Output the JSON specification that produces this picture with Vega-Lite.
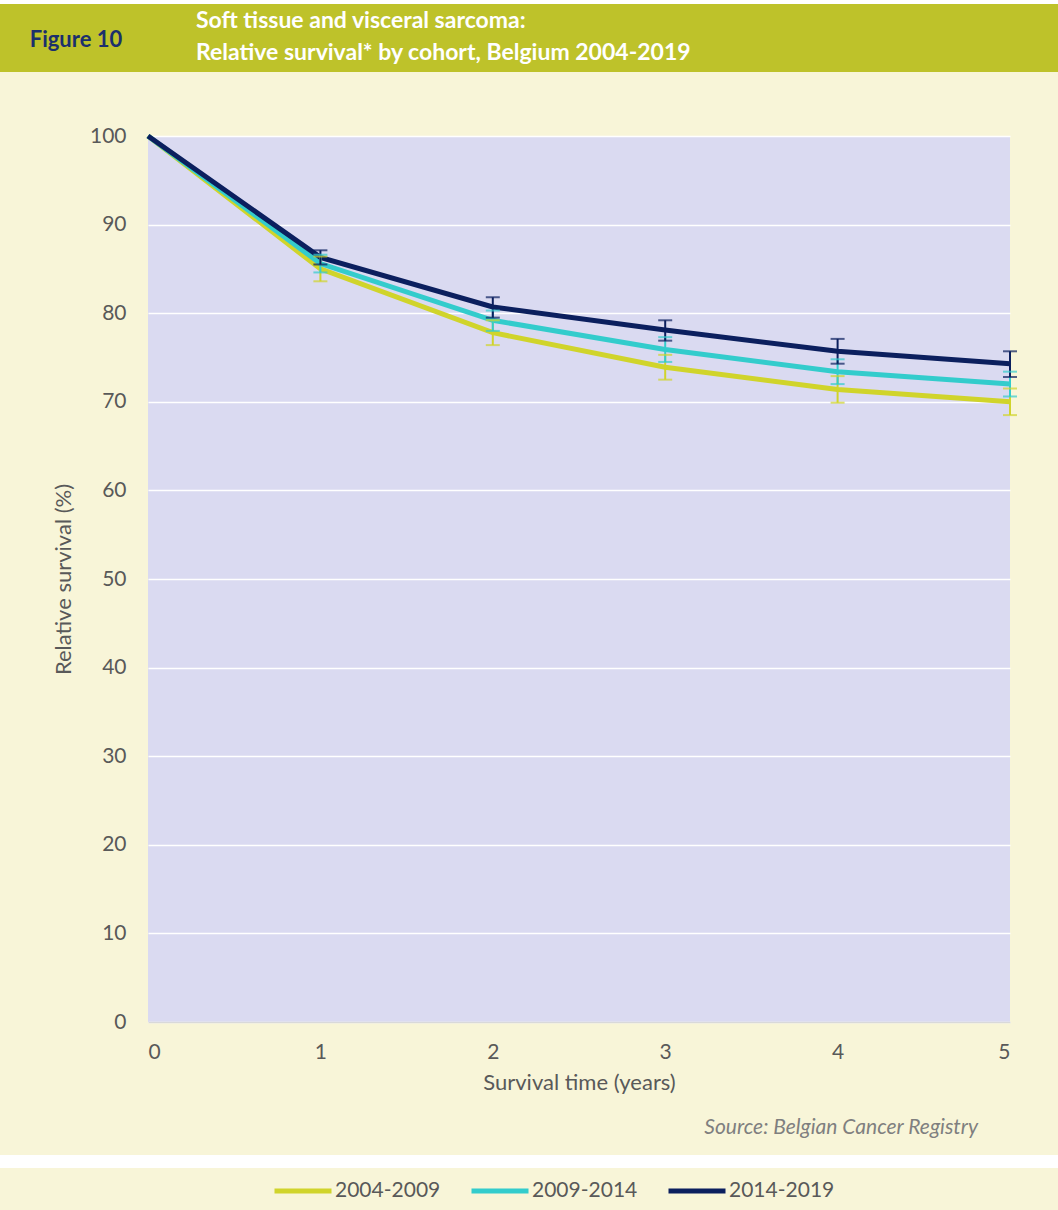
{
  "$schema": "https://vega.github.io/schema/vega-lite/v6.json",
  "background": "#F8F5D8",
  "padding": 0,
  "spacing": 0,
  "bounds": "flush",
  "columns": 2,
  "config": {
    "view": {"stroke": null},
    "font": "Lato",
    "concat": {"spacing": 0}
  },
  "concat": [
    {"width": 148, "height": 4, "view": {"fill": "#FFFFFF", "stroke": null}, "data": {"values": [{}]}, "mark": {"type": "text", "baseline": "top", "fontSize": 1}, "encoding": {"text": {"value": ""}}},
    {"width": 910, "height": 4, "view": {"fill": "#FFFFFF", "stroke": null}, "data": {"values": [{}]}, "mark": {"type": "text", "baseline": "top", "fontSize": 1}, "encoding": {"text": {"value": ""}}},
    {
      "width": 148, "height": 68,
      "view": {"fill": "#BEC22A", "stroke": null},
      "title": {"text": "Figure 10", "anchor": "middle", "frame": "group", "orient": "top", "baseline": "middle", "offset": -58, "dx": 2, "color": "#1B2F6C", "fontSize": 22, "fontWeight": "bold", "font": "Lato"},
      "data": {"values": [{}]}, "mark": {"type": "text", "baseline": "top", "fontSize": 1}, "encoding": {"text": {"value": ""}}
    },
    {
      "width": 910, "height": 68,
      "view": {"fill": "#BEC22A", "stroke": null},
      "title": {"text": ["Soft tissue and visceral sarcoma:", "Relative survival* by cohort, Belgium 2004-2019"], "anchor": "start", "frame": "group", "orient": "top", "baseline": "middle", "lineHeight": 32, "offset": -72, "dx": 48, "color": "#FFFFFF", "fontSize": 23, "fontWeight": "bold", "font": "Lato"},
      "data": {"values": [{}]}, "mark": {"type": "text", "baseline": "top", "fontSize": 1}, "encoding": {"text": {"value": ""}}
    },
    {"width": 148, "height": 64, "data": {"values": [{}]}, "mark": {"type": "text", "baseline": "top", "fontSize": 1}, "encoding": {"text": {"value": ""}}},
    {"width": 910, "height": 64, "data": {"values": [{}]}, "mark": {"type": "text", "baseline": "top", "fontSize": 1}, "encoding": {"text": {"value": ""}}},
    {"width": 148, "height": 886, "data": {"values": [{}]}, "mark": {"type": "text", "baseline": "top", "fontSize": 1}, "encoding": {"text": {"value": ""}}},
    {
      "width": 862, "height": 886,
      "view": {"fill": "#DADAF1", "stroke": null},
      "data": {"values": [
        {"cohort": "2004-2009", "year": 0, "rs": 100, "lo": null, "hi": null},
        {"cohort": "2004-2009", "year": 1, "rs": 85.0, "lo": 83.6, "hi": 86.4},
        {"cohort": "2004-2009", "year": 2, "rs": 77.8, "lo": 76.4, "hi": 79.2},
        {"cohort": "2004-2009", "year": 3, "rs": 73.9, "lo": 72.5, "hi": 75.3},
        {"cohort": "2004-2009", "year": 4, "rs": 71.4, "lo": 69.9, "hi": 72.9},
        {"cohort": "2004-2009", "year": 5, "rs": 70.0, "lo": 68.5, "hi": 71.5},
        {"cohort": "2009-2014", "year": 0, "rs": 100, "lo": null, "hi": null},
        {"cohort": "2009-2014", "year": 1, "rs": 85.6, "lo": 84.6, "hi": 86.6},
        {"cohort": "2009-2014", "year": 2, "rs": 79.2, "lo": 78.0, "hi": 80.3},
        {"cohort": "2009-2014", "year": 3, "rs": 75.9, "lo": 74.5, "hi": 77.3},
        {"cohort": "2009-2014", "year": 4, "rs": 73.4, "lo": 72.0, "hi": 74.8},
        {"cohort": "2009-2014", "year": 5, "rs": 72.0, "lo": 70.6, "hi": 73.4},
        {"cohort": "2014-2019", "year": 0, "rs": 100, "lo": null, "hi": null},
        {"cohort": "2014-2019", "year": 1, "rs": 86.3, "lo": 85.5, "hi": 87.1},
        {"cohort": "2014-2019", "year": 2, "rs": 80.7, "lo": 79.5, "hi": 81.8},
        {"cohort": "2014-2019", "year": 3, "rs": 78.1, "lo": 76.9, "hi": 79.2},
        {"cohort": "2014-2019", "year": 4, "rs": 75.7, "lo": 74.3, "hi": 77.1},
        {"cohort": "2014-2019", "year": 5, "rs": 74.3, "lo": 72.8, "hi": 75.7}
      ]},
      "encoding": {
        "x": {
          "field": "year", "type": "quantitative",
          "title": "Survival time (years)",
          "scale": {"domain": [0, 5], "nice": false, "zero": false},
          "axis": {
            "values": [0, 1, 2, 3, 4, 5], "grid": false, "ticks": false,
            "domain": true, "domainColor": "#D9D9D9", "domainWidth": 1.5,
            "labelFontSize": 21, "labelColor": "#595959", "labelPadding": 19,
            "titleFontSize": 22, "titleFontWeight": "normal", "titleColor": "#595959", "titlePadding": 10,
            "labelFont": "Lato", "titleFont": "Lato"
          }
        },
        "color": {
          "field": "cohort", "type": "nominal",
          "scale": {"domain": ["2004-2009", "2009-2014", "2014-2019"], "range": ["#D0D42B", "#33CCCC", "#0B1F5E"]},
          "legend": {
            "title": null, "orient": "none", "legendX": 272, "legendY": 1160,
            "direction": "horizontal", "symbolType": "stroke", "symbolSize": 3249,
            "symbolStrokeWidth": 5, "symbolOpacity": 1, "labelFontSize": 21, "labelColor": "#595959",
            "labelOffset": 1, "columnPadding": 20, "labelFont": "Lato"
          }
        }
      },
      "layer": [
        {
          "mark": {"type": "line", "strokeWidth": 5},
          "encoding": {
            "y": {
              "field": "rs", "type": "quantitative",
              "title": "Relative survival (%)",
              "scale": {"domain": [0, 100], "nice": false},
              "axis": {
                "values": [0, 10, 20, 30, 40, 50, 60, 70, 80, 90, 100],
                "grid": true, "gridColor": "#FFFFFF", "gridWidth": 1.5,
                "domain": false, "ticks": false,
                "labelFontSize": 21, "labelColor": "#595959", "labelPadding": 22,
                "titleFontSize": 22, "titleFontWeight": "normal", "titleColor": "#595959", "titlePadding": 14,
                "labelFont": "Lato", "titleFont": "Lato"
              }
            }
          }
        },
        {
          "transform": [{"filter": "datum.lo != null"}],
          "mark": {"type": "rule", "strokeWidth": 2},
          "encoding": {
            "y": {"field": "lo", "type": "quantitative", "title": "Relative survival (%)"},
            "y2": {"field": "hi"}
          }
        },
        {
          "transform": [{"filter": "datum.lo != null"}],
          "mark": {"type": "tick", "orient": "horizontal", "size": 14, "thickness": 2},
          "encoding": {"y": {"field": "lo", "type": "quantitative", "title": "Relative survival (%)"}}
        },
        {
          "transform": [{"filter": "datum.lo != null"}],
          "mark": {"type": "tick", "orient": "horizontal", "size": 14, "thickness": 2},
          "encoding": {"y": {"field": "hi", "type": "quantitative", "title": "Relative survival (%)"}}
        }
      ]
    },
    {"width": 148, "height": 133, "data": {"values": [{}]}, "mark": {"type": "text", "baseline": "top", "fontSize": 1}, "encoding": {"text": {"value": ""}}},
    {
      "width": 910, "height": 133,
      "title": {"text": "Source: Belgian Cancer Registry", "anchor": "end", "frame": "group", "orient": "top", "baseline": "middle", "offset": -127, "dx": -80, "color": "#7F7F7F", "fontSize": 21, "fontStyle": "italic", "fontWeight": "normal", "font": "Lato"},
      "data": {"values": [{}]}, "mark": {"type": "text", "baseline": "top", "fontSize": 1}, "encoding": {"text": {"value": ""}}
    },
    {"width": 148, "height": 13, "view": {"fill": "#FFFFFF", "stroke": null}, "data": {"values": [{}]}, "mark": {"type": "text", "baseline": "top", "fontSize": 1}, "encoding": {"text": {"value": ""}}},
    {"width": 910, "height": 13, "view": {"fill": "#FFFFFF", "stroke": null}, "data": {"values": [{}]}, "mark": {"type": "text", "baseline": "top", "fontSize": 1}, "encoding": {"text": {"value": ""}}},
    {"width": 148, "height": 42, "data": {"values": [{}]}, "mark": {"type": "text", "baseline": "top", "fontSize": 1}, "encoding": {"text": {"value": ""}}},
    {"width": 910, "height": 42, "data": {"values": [{}]}, "mark": {"type": "text", "baseline": "top", "fontSize": 1}, "encoding": {"text": {"value": ""}}}
  ]
}
